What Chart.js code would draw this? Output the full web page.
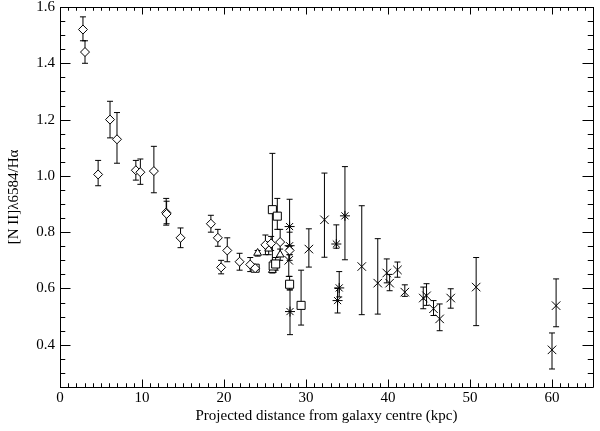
<!DOCTYPE html>
<html>
<head>
<meta charset="utf-8">
<script src="https://cdn.jsdelivr.net/npm/chart.js@4.4.1/dist/chart.umd.min.js"></script>
<style>
  html, body { margin: 0; padding: 0; background: #fff; }
  canvas { display: block; }
</style>
</head>
<body>
<canvas id="chart" width="600" height="431"></canvas>
<script>
// diamonds
const diamondX  = [2.8, 3.05, 4.65, 6.1, 6.95, 9.25, 9.8, 11.45, 12.95, 13.0, 14.7, 18.4, 19.25, 19.65, 20.4, 21.9, 23.2, 23.8, 25.05, 25.75, 26.85, 28.0];
const diamondY  = [1.52, 1.44, 1.005, 1.2, 1.13, 1.02, 1.013, 1.017, 0.87, 0.865, 0.78, 0.83, 0.78, 0.675, 0.735, 0.695, 0.685, 0.672, 0.755, 0.76, 0.765, 0.735];
const diamondLo = [1.48, 1.40, 0.965, 1.135, 1.045, 0.985, 0.97, 0.94, 0.825, 0.83, 0.745, 0.80, 0.75, 0.652, 0.695, 0.665, 0.66, 0.662, 0.72, 0.735, 0.715, 0.72];
const diamondHi = [1.565, 1.48, 1.055, 1.265, 1.225, 1.055, 1.06, 1.105, 0.92, 0.91, 0.815, 0.86, 0.81, 0.70, 0.78, 0.725, 0.71, 0.682, 0.79, 0.785, 0.81, 0.75];

// squares
const squareX  = [23.8, 25.9, 26.5, 26.0, 26.3, 28.0, 29.4];
const squareY  = [0.672, 0.88, 0.857, 0.68, 0.687, 0.615, 0.54];
const squareLo = [0.662, 0.69, 0.81, 0.66, 0.665, 0.595, 0.47];
const squareHi = [0.682, 1.08, 0.92, 0.70, 0.71, 0.643, 0.665];

// triangles
const triangleX  = [24.1, 25.45, 26.85, 25.9];
const triangleY  = [0.726, 0.741, 0.72, 0.665];
const triangleLo = [0.715, 0.72, 0.70, 0.655];
const triangleHi = [0.735, 0.765, 0.74, 0.675];

// asterisks
const starX  = [28.0, 28.0, 28.05, 33.7, 34.75, 34.05, 33.85];
const starY  = [0.82, 0.752, 0.518, 0.758, 0.858, 0.602, 0.557];
const starLo = [0.72, 0.70, 0.436, 0.743, 0.702, 0.57, 0.513];
const starHi = [0.917, 0.80, 0.595, 0.826, 1.033, 0.66, 0.60];

// crosses
const crossX  = [27.9, 30.35, 32.25, 36.8, 38.75, 39.85, 40.2, 41.15, 42.05, 44.3, 44.7, 45.55, 46.3, 47.65, 50.75, 60.0, 60.5];
const crossY  = [0.70, 0.74, 0.844, 0.678, 0.619, 0.655, 0.619, 0.666, 0.587, 0.566, 0.574, 0.528, 0.492, 0.566, 0.605, 0.382, 0.539];
const crossLo = [0.643, 0.676, 0.711, 0.507, 0.509, 0.62, 0.592, 0.640, 0.572, 0.528, 0.54, 0.504, 0.45, 0.53, 0.468, 0.314, 0.464];
const crossHi = [0.75, 0.812, 1.01, 0.894, 0.777, 0.705, 0.65, 0.694, 0.613, 0.605, 0.617, 0.557, 0.545, 0.599, 0.71, 0.442, 0.634];

const xTicks = [0, 10, 20, 30, 40, 50, 60];
const yTicks = [0.4, 0.6, 0.8, 1.0, 1.2, 1.4, 1.6];
const xTitle = 'Projected distance from galaxy centre (kpc)';
const yTitle = '[N II]\u03bb6584/H\u03b1';

const FONT = 'Liberation Serif, Times New Roman, serif';

const toPoints = (xs, ys, lo, hi) => xs.map((x, i) => ({ x: x, y: ys[i], lo: lo[i], hi: hi[i] }));

const series = (data, style, radius) => ({
    data: data,
    pointStyle: style,
    pointRadius: radius,
    pointBorderColor: '#000',
    pointBackgroundColor: '#fff',
    pointBorderWidth: 1,
    showLine: false
});

const errorBars = {
    id: 'errorBars',
    beforeDatasetsDraw(chart) {
        const { ctx, scales: { x, y } } = chart;
        ctx.save();
        ctx.strokeStyle = '#000';
        ctx.lineWidth = 1;
        chart.data.datasets.forEach(ds => {
            ds.data.forEach(p => {
                const px = x.getPixelForValue(p.x);
                const top = y.getPixelForValue(p.hi);
                const bot = y.getPixelForValue(p.lo);
                ctx.beginPath();
                ctx.moveTo(px, top);
                ctx.lineTo(px, bot);
                ctx.moveTo(px - 3, top);
                ctx.lineTo(px + 3, top);
                ctx.moveTo(px - 3, bot);
                ctx.lineTo(px + 3, bot);
                ctx.stroke();
            });
        });
        ctx.restore();
    }
};

// IDL style frame with inward ticks on all four sides
const frameTicks = {
    id: 'frameTicks',
    afterDatasetsDraw(chart) {
        const { ctx, chartArea: a, scales: { x, y } } = chart;
        ctx.save();
        ctx.strokeStyle = '#000';
        ctx.lineWidth = 1;
        ctx.beginPath();
        for (let v = 0; v <= 65; v++) {
            const px = Math.round(x.getPixelForValue(v)) + 0.5;
            const len = v % 10 === 0 ? 7.5 : 3.75;
            ctx.moveTo(px, a.bottom);
            ctx.lineTo(px, a.bottom - len);
            ctx.moveTo(px, a.top);
            ctx.lineTo(px, a.top + len);
        }
        for (let k = 5; k <= 32; k++) {
            const v = k * 0.05;
            const py = Math.round(y.getPixelForValue(v)) + 0.5;
            const len = k % 4 === 0 ? 10.5 : 5.25;
            ctx.moveTo(a.left, py);
            ctx.lineTo(a.left + len, py);
            ctx.moveTo(a.right, py);
            ctx.lineTo(a.right - len, py);
        }
        ctx.rect(Math.round(a.left) + 0.5, Math.round(a.top) + 0.5, Math.round(a.right - a.left), Math.round(a.bottom - a.top));
        ctx.stroke();
        ctx.restore();
    }
};

new Chart(document.getElementById('chart'), {
    type: 'scatter',
    data: {
        datasets: [
            series(toPoints(diamondX, diamondY, diamondLo, diamondHi), 'rectRot', 4.5),
            series(toPoints(squareX, squareY, squareLo, squareHi), 'rect', 5.7),
            series(toPoints(triangleX, triangleY, triangleLo, triangleHi), 'triangle', 4.5),
            series(toPoints(starX, starY, starLo, starHi), 'star', 5),
            series(toPoints(crossX, crossY, crossLo, crossHi), 'crossRot', 6)
        ]
    },
    options: {
        responsive: false,
        animation: false,
        layout: { padding: { left: 0, right: 6, top: 7, bottom: 0 } },
        plugins: {
            legend: { display: false },
            tooltip: { enabled: false }
        },
        scales: {
            x: {
                type: 'linear',
                min: 0,
                max: 65,
                afterBuildTicks: s => { s.ticks = xTicks.map(v => ({ value: v })); },
                afterFit: s => { s.height = 44; s.paddingLeft = 0; s.paddingRight = 0; },
                grid: { display: false, drawTicks: false },
                border: { display: false },
                ticks: {
                    color: '#000',
                    padding: 4,
                    maxRotation: 0,
                    font: { family: FONT, size: 15, lineHeight: 1 },
                    callback: v => String(v)
                },
                title: {
                    display: true,
                    text: xTitle,
                    color: '#000',
                    font: { family: FONT, size: 15 },
                    padding: { top: 0, bottom: 6 }
                }
            },
            y: {
                type: 'linear',
                min: 0.25,
                max: 1.6,
                afterBuildTicks: s => { s.ticks = yTicks.map(v => ({ value: v })); },
                afterFit: s => { s.width = 60; s.paddingTop = 0; s.paddingBottom = 0; },
                grid: { display: false, drawTicks: false },
                border: { display: false },
                ticks: {
                    color: '#000',
                    padding: 5,
                    font: { family: FONT, size: 15, lineHeight: 1 },
                    callback: v => v.toFixed(1)
                },
                title: {
                    display: true,
                    text: yTitle,
                    color: '#000',
                    font: { family: FONT, size: 15 },
                    padding: { top: 5, bottom: 0 }
                }
            }
        }
    },
    plugins: [errorBars, frameTicks]
});
</script>
</body>
</html>
